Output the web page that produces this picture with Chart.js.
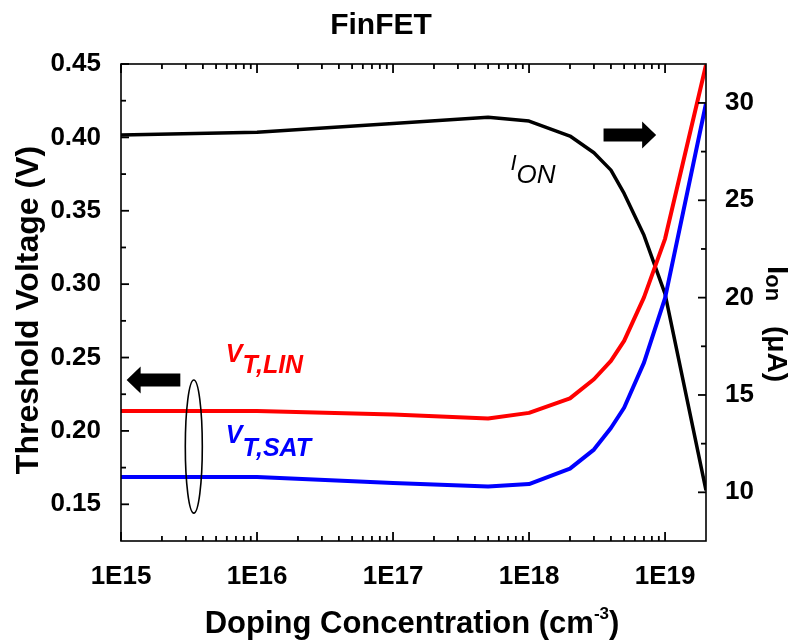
<!DOCTYPE html>
<html>
<head>
<meta charset="utf-8">
<title>FinFET</title>
<script src="https://cdn.jsdelivr.net/npm/chart.js@4.4.1/dist/chart.umd.min.js"></script>
<style>
  html, body { margin: 0; padding: 0; background: #fff; }
  #wrap { width: 792px; height: 643px; position: relative; }
</style>
</head>
<body>
<div id="wrap"><canvas id="finfetChart"></canvas></div>
<script>
// Doping sweep (cm^-3) and the simulated curves
const doping = [1e15, 1e16, 1e17, 5e17, 1e18, 2e18, 3e18, 4e18, 5e18, 7e18, 1e19, 2e19];
const vtLin = [0.2135, 0.2135, 0.2112, 0.2085, 0.2123, 0.2222, 0.2352, 0.2477, 0.2613, 0.2910, 0.3309, 0.4493];
const vtSat = [0.1686, 0.1686, 0.1645, 0.1622, 0.1638, 0.1743, 0.1873, 0.2020, 0.2158, 0.2465, 0.2905, 0.4231];
const ionCurrent = [28.35, 28.49, 28.95, 29.26, 29.07, 28.30, 27.44, 26.55, 25.35, 23.20, 20.19, 10.10];

// Axis ticks and labels
const xTickValues = [1e15, 1e16, 1e17, 1e18, 1e19];
const xTickLabels = ['1E15', '1E16', '1E17', '1E18', '1E19'];
const vtTicks = [0.15, 0.20, 0.25, 0.30, 0.35, 0.40, 0.45];
const ionTicks = [10, 15, 20, 25, 30];

const FONT = '"Liberation Sans", Arial, Helvetica, sans-serif';

function points(ys) {
    return doping.map((d, i) => ({ x: d, y: ys[i] }));
}

// Filled block arrow, horizontal
function drawArrow(ctx, xTail, xTip, y) {
    const dir = Math.sign(xTip - xTail);
    const shaft = 6.5, head = 13.5, headLen = 14;
    const xBase = xTip - dir * headLen;
    ctx.beginPath();
    ctx.moveTo(xTail, y - shaft);
    ctx.lineTo(xBase, y - shaft);
    ctx.lineTo(xBase, y - head);
    ctx.lineTo(xTip, y);
    ctx.lineTo(xBase, y + head);
    ctx.lineTo(xBase, y + shaft);
    ctx.lineTo(xTail, y + shaft);
    ctx.closePath();
    ctx.fill();
}

// Label with a subscript, e.g. V_T,LIN
function drawSub(ctx, main, sub, x, y, mainFont, subFont, drop) {
    ctx.font = mainFont;
    ctx.fillText(main, x, y);
    const w = ctx.measureText(main).width;
    ctx.font = subFont;
    ctx.fillText(sub, x + w, y + drop);
}

function tickLine(ctx, x1, y1, x2, y2) {
    ctx.beginPath();
    ctx.moveTo(x1, y1);
    ctx.lineTo(x2, y2);
    ctx.stroke();
}

const decor = {
    id: 'finfetDecor',
    afterDraw(chart) {
        const { ctx, chartArea: a, scales } = chart;
        const xs = scales.x, vt = scales.vt, io = scales.ion;
        ctx.save();
        ctx.strokeStyle = '#000';
        ctx.fillStyle = '#000';

        // plot frame
        ctx.lineWidth = 1.6;
        ctx.strokeRect(a.left, a.top, a.right - a.left, a.bottom - a.top);

        // inward ticks, bottom and top
        ctx.lineWidth = 1.8;
        for (let e = 15; e <= 19; e++) {
            for (let k = 1; k <= 9; k++) {
                const v = k * Math.pow(10, e);
                if (v >= xs.max) break;
                const px = xs.getPixelForValue(v);
                const len = k === 1 ? 9 : 5;
                tickLine(ctx, px, a.bottom, px, a.bottom - len);
                tickLine(ctx, px, a.top, px, a.top + len);
            }
        }
        // left axis
        vtTicks.forEach((v, i) => {
            const py = vt.getPixelForValue(v);
            tickLine(ctx, a.left, py, a.left + 8, py);
            if (i > 0) {
                const pm = vt.getPixelForValue(v - 0.025);
                tickLine(ctx, a.left, pm, a.left + 5, pm);
            }
        });
        // right axis
        ionTicks.forEach((v, i) => {
            const py = io.getPixelForValue(v);
            tickLine(ctx, a.right, py, a.right - 8, py);
            if (i > 0) {
                const pm = io.getPixelForValue(v - 2.5);
                tickLine(ctx, a.right, pm, a.right - 5, pm);
            }
        });

        // chart title
        ctx.textAlign = 'center';
        ctx.textBaseline = 'alphabetic';
        ctx.font = `bold 30px ${FONT}`;
        ctx.fillText('FinFET', 381, 34);

        // x axis title with superscript
        const xMain = 'Doping Concentration (cm';
        ctx.font = `bold 31px ${FONT}`;
        const w1 = ctx.measureText(xMain).width;
        const w3 = ctx.measureText(')').width;
        ctx.font = `bold 17px ${FONT}`;
        const w2 = ctx.measureText('-3').width;
        let tx = 412 - (w1 + w2 + w3) / 2;
        ctx.textAlign = 'left';
        ctx.font = `bold 31px ${FONT}`;
        ctx.fillText(xMain, tx, 633);
        ctx.font = `bold 17px ${FONT}`;
        ctx.fillText('-3', tx + w1, 619);
        ctx.font = `bold 31px ${FONT}`;
        ctx.fillText(')', tx + w1 + w2, 633);

        // left axis title
        ctx.save();
        ctx.translate(38, 310);
        ctx.rotate(-Math.PI / 2);
        ctx.textAlign = 'center';
        ctx.font = `bold 32px ${FONT}`;
        ctx.fillText('Threshold Voltage (V)', 0, 0);
        ctx.restore();

        // right axis title, I_on (uA)
        ctx.save();
        ctx.translate(768, 266);
        ctx.rotate(Math.PI / 2);
        ctx.textAlign = 'left';
        drawSub(ctx, 'I', 'on', 0, 0, `bold 30px ${FONT}`, `bold 22px ${FONT}`, 2);
        ctx.font = `bold 28px ${FONT}`;
        ctx.fillText('(\u03bcA)', 60, 0);
        ctx.restore();

        // curve labels
        ctx.textAlign = 'left';
        ctx.fillStyle = '#ff0000';
        drawSub(ctx, 'V', 'T,LIN', xs.getPixelForValue(5.9e15), vt.getPixelForValue(0.247),
            `italic bold 25px ${FONT}`, `italic bold 25px ${FONT}`, 11);
        ctx.fillStyle = '#0000ff';
        drawSub(ctx, 'V', 'T,SAT', xs.getPixelForValue(5.9e15), vt.getPixelForValue(0.1918),
            `italic bold 25px ${FONT}`, `italic bold 25px ${FONT}`, 13);
        ctx.fillStyle = '#000';
        drawSub(ctx, 'I', 'ON', xs.getPixelForValue(7.3e17), io.getPixelForValue(26.56),
            `italic 22px ${FONT}`, `italic 26px ${FONT}`, 13);

        // axis pointers
        drawArrow(ctx, xs.getPixelForValue(2.73e15), xs.getPixelForValue(1.1e15), vt.getPixelForValue(0.2347));
        drawArrow(ctx, xs.getPixelForValue(3.53e18), xs.getPixelForValue(8.6e18), io.getPixelForValue(28.35));

        // ellipse grouping the two threshold curves
        const top = vt.getPixelForValue(0.2347), bot = vt.getPixelForValue(0.144);
        ctx.lineWidth = 1.6;
        ctx.beginPath();
        ctx.ellipse(xs.getPixelForValue(3.43e15), (top + bot) / 2, 8.5, (bot - top) / 2, 0, 0, Math.PI * 2);
        ctx.stroke();

        ctx.restore();
    }
};

const tickFont = { family: FONT, size: 26, weight: 'bold' };

new Chart(document.getElementById('finfetChart'), {
    type: 'line',
    data: {
        datasets: [
            {
                label: 'VT,LIN',
                data: points(vtLin),
                yAxisID: 'vt',
                borderColor: '#ff0000',
                borderWidth: 4,
                pointRadius: 0,
                tension: 0,
                borderJoinStyle: 'round'
            },
            {
                label: 'VT,SAT',
                data: points(vtSat),
                yAxisID: 'vt',
                borderColor: '#0000ff',
                borderWidth: 4,
                pointRadius: 0,
                tension: 0,
                borderJoinStyle: 'round'
            },
            {
                label: 'ION',
                data: points(ionCurrent),
                yAxisID: 'ion',
                borderColor: '#000000',
                borderWidth: 3.5,
                pointRadius: 0,
                tension: 0,
                borderJoinStyle: 'round'
            }
        ]
    },
    options: {
        responsive: true,
        maintainAspectRatio: false,
        animation: false,
        layout: { padding: { top: 64, left: 0, right: 0, bottom: 0 } },
        plugins: {
            legend: { display: false },
            tooltip: { enabled: false }
        },
        scales: {
            x: {
                type: 'logarithmic',
                position: 'bottom',
                min: 1e15,
                max: 2e19,
                grid: { display: false },
                border: { display: false },
                afterBuildTicks: s => { s.ticks = xTickValues.map(v => ({ value: v })); },
                afterFit: s => { s.height = 102; },
                ticks: {
                    font: tickFont,
                    color: '#000',
                    padding: 12,
                    maxRotation: 0,
                    autoSkip: false,
                    callback: v => {
                        const i = xTickValues.indexOf(v);
                        return i >= 0 ? xTickLabels[i] : '';
                    }
                }
            },
            vt: {
                type: 'linear',
                position: 'left',
                min: 0.125,
                max: 0.45,
                grid: { display: false },
                border: { display: false },
                afterBuildTicks: s => { s.ticks = vtTicks.map(v => ({ value: v })); },
                afterFit: s => { s.width = 121; },
                ticks: {
                    font: tickFont,
                    color: '#000',
                    padding: 12,
                    callback: v => Number(v).toFixed(2)
                }
            },
            ion: {
                type: 'linear',
                position: 'right',
                min: 7.5,
                max: 32,
                grid: { display: false },
                border: { display: false },
                afterBuildTicks: s => { s.ticks = ionTicks.map(v => ({ value: v })); },
                afterFit: s => { s.width = 86; },
                ticks: {
                    font: tickFont,
                    color: '#000',
                    padding: 11,
                    callback: v => String(v)
                }
            }
        }
    },
    plugins: [decor]
});
</script>
</body>
</html>
